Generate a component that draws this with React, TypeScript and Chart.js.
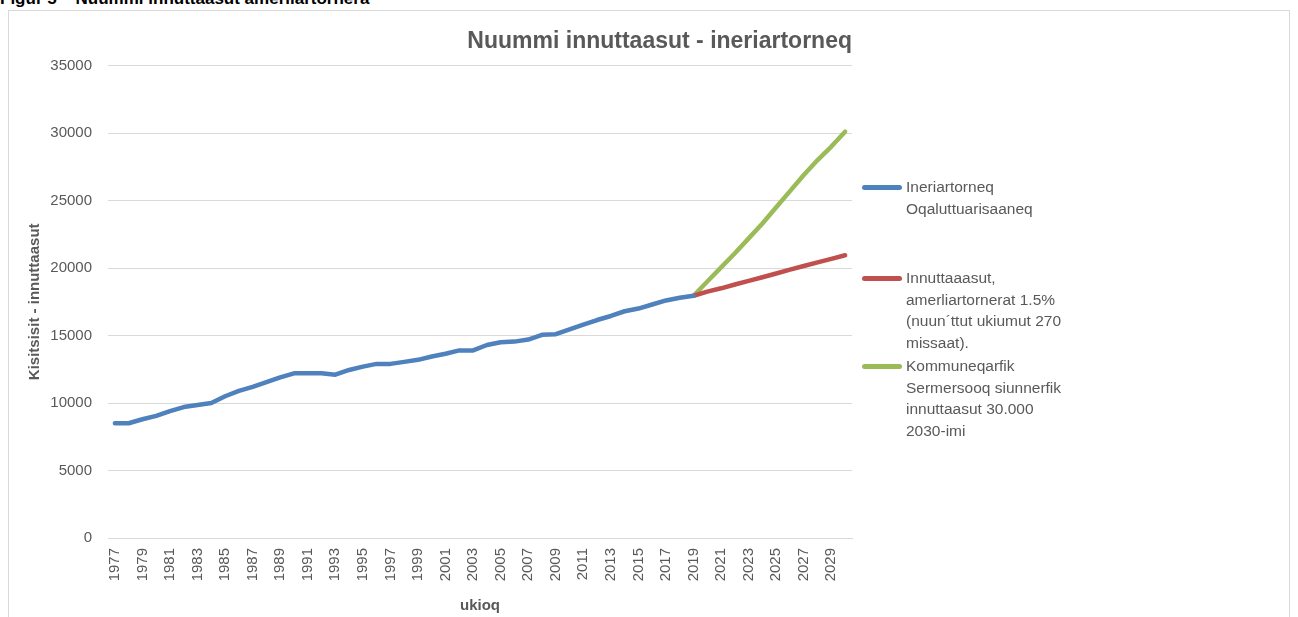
import React, { useEffect, useRef } from "react";
import { Chart, registerables } from "chart.js";

Chart.register(...registerables);

const years: string[] = [];
for (let y = 1977; y <= 2030; y++) years.push(String(y));

const historic: (number | null)[] = [
  8500, 8500, 8800, 9050, 9400, 9700, 9850, 10000, 10500, 10900,
  11200, 11550, 11900, 12200, 12200, 12200, 12100, 12450, 12700, 12900,
  12900, 13050, 13200, 13450, 13650, 13900, 13900, 14300, 14500, 14550,
  14700, 15050, 15100, 15450, 15800, 16150, 16450, 16800, 17000, 17300,
  17600, 17800, 17950,
];

const growth15: number[] = [17950, 18250, 18500, 18780, 19050, 19320, 19600, 19880, 20150, 20420, 20680, 20950];
const target30000: number[] = [17950, 19000, 20050, 21100, 22200, 23300, 24500, 25700, 26900, 28000, 29000, 30100];

const yTicks = [0, 5000, 10000, 15000, 20000, 25000, 30000, 35000];

const chartTitle = "Nuummi innuttaasut - ineriartorneq";
const figureCaption = "Figur 5 – Nuummi innuttaasut amerliartornera";
const yTitle = "Kisitsisit - innuttaasut";
const xTitle = "ukioq";

const legendItems = [
  { color: "#4F81BD", lines: ["Ineriartorneq", "Oqaluttuarisaaneq"], top: 176 },
  { color: "#C0504D", lines: ["Innuttaaasut,", "amerliartornerat 1.5%", "(nuun´ttut ukiumut 270", "missaat)."], top: 267 },
  { color: "#9BBB59", lines: ["Kommuneqarfik", "Sermersooq siunnerfik", "innuttaasut 30.000", "2030-imi"], top: 355 },
];

const FONT = "'Liberation Sans', Arial, sans-serif";
const GREY = "#595959";

function pad(arr: number[], startIndex: number): (number | null)[] {
  const out: (number | null)[] = years.map(() => null);
  arr.forEach((v, i) => (out[startIndex + i] = v));
  return out;
}

export default function App() {
  const ref = useRef<HTMLCanvasElement | null>(null);

  useEffect(() => {
    if (!ref.current) return;
    const startIdx = years.indexOf("2019");
    const chart = new Chart(ref.current, {
      type: "line",
      data: {
        labels: years,
        datasets: [
          {
            label: "Ineriartorneq Oqaluttuarisaaneq",
            data: years.map((_, i) => (i < historic.length ? historic[i] : null)),
            borderColor: "#4F81BD",
            backgroundColor: "#4F81BD",
          },
          {
            label: "Innuttaaasut, amerliartornerat 1.5%",
            data: pad(growth15, startIdx),
            borderColor: "#C0504D",
            backgroundColor: "#C0504D",
          },
          {
            label: "Kommuneqarfik Sermersooq siunnerfik",
            data: pad(target30000, startIdx),
            borderColor: "#9BBB59",
            backgroundColor: "#9BBB59",
          },
        ].map((d) => ({
          ...d,
          borderWidth: 4.5,
          pointRadius: 0,
          pointHoverRadius: 0,
          tension: 0,
          borderCapStyle: "round" as const,
          borderJoinStyle: "round" as const,
          spanGaps: false,
        })),
      },
      options: {
        animation: false,
        responsive: false,
        maintainAspectRatio: false,
        layout: { padding: { left: 13, right: 437, top: 0, bottom: 0 } },
        plugins: {
          legend: { display: false },
          tooltip: { enabled: false },
          title: {
            display: true,
            text: chartTitle,
            align: "end",
            color: GREY,
            font: { family: FONT, size: 23, weight: "bold" },
            padding: { top: 17, bottom: 10 },
          },
        },
        scales: {
          x: {
            offset: true,
            grid: { display: false, drawTicks: false },
            border: { display: true, color: "#d9d9d9", width: 1 },
            ticks: {
              autoSkip: false,
              maxRotation: 90,
              minRotation: 90,
              padding: 10,
              color: GREY,
              font: { family: FONT, size: 15 },
              callback: (_v: any, i: number) => (i % 2 === 0 ? years[i] : ""),
            },
            title: {
              display: true,
              text: xTitle,
              color: GREY,
              font: { family: FONT, size: 15, weight: "bold" },
              padding: { top: 0, bottom: 2 },
            },
            afterFit: (s: any) => {
              s.height = 79;
            },
          },
          y: {
            min: 0,
            max: 35000,
            afterBuildTicks: (s: any) => {
              s.ticks = yTicks.map((v) => ({ value: v }));
            },
            grid: { color: "#d9d9d9", lineWidth: 1, drawTicks: false },
            border: { display: false },
            ticks: {
              padding: 16,
              color: GREY,
              font: { family: FONT, size: 15 },
              callback: (v: any) => String(v),
            },
            title: {
              display: true,
              text: yTitle,
              color: GREY,
              font: { family: FONT, size: 15, weight: "bold" },
              padding: { top: 4, bottom: 0 },
            },
            afterFit: (s: any) => {
              s.width = 86;
            },
          },
        },
      },
    });
    return () => chart.destroy();
  }, []);

  return (
    <div style={{ position: "fixed", inset: 0, overflow: "hidden", background: "#fff" }}>
      <div
        style={{
          position: "absolute",
          left: 0,
          top: -10,
          fontFamily: FONT,
          fontWeight: "bold",
          fontSize: 17,
          lineHeight: "17px",
          color: "#000",
          whiteSpace: "nowrap",
        }}
      >
        {figureCaption}
      </div>
      <div
        style={{
          position: "absolute",
          left: 8,
          top: 10,
          width: 1282,
          height: 640,
          border: "1px solid #d9d9d9",
          boxSizing: "border-box",
        }}
      />
      <canvas
        ref={ref}
        width={1280}
        height={606}
        style={{ position: "absolute", left: 9, top: 11, width: 1280, height: 606 }}
      />
      {legendItems.map((item, k) => (
        <div key={k} style={{ position: "absolute", left: 862, top: item.top }}>
          <div
            style={{
              position: "absolute",
              left: 0,
              top: 9,
              width: 40,
              height: 4.5,
              borderRadius: 3,
              background: item.color,
            }}
          />
          <div
            style={{
              position: "absolute",
              left: 44,
              top: 0,
              fontFamily: FONT,
              fontSize: 15.5,
              lineHeight: "21.7px",
              color: GREY,
              whiteSpace: "nowrap",
            }}
          >
            {item.lines.map((l, i) => (
              <div key={i}>{l}</div>
            ))}
          </div>
        </div>
      ))}
    </div>
  );
}
